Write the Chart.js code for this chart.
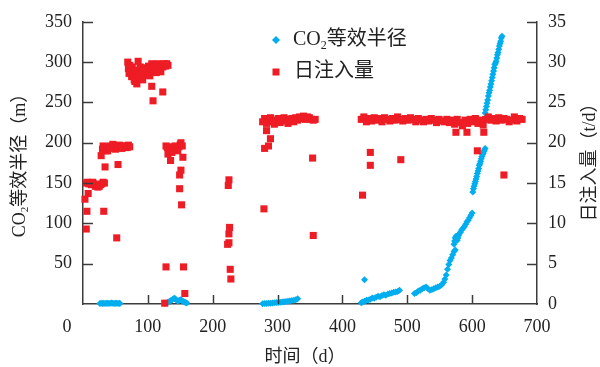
<!DOCTYPE html>
<html>
<head>
<meta charset="utf-8">
<script src="https://cdn.jsdelivr.net/npm/chart.js@4.4.1/dist/chart.umd.min.js"></script>
<style>
  html, body { margin: 0; padding: 0; background: #fff; }
  #wrap { width: 600px; height: 367px; }
</style>
</head>
<body>
<div id="wrap"><canvas id="c" width="600" height="367"></canvas></div>
<script>
// Daily injection (t/d) against time (d)
const injDays = [
  // early stage, ~15 t/d
  5, 7, 9, 11, 13, 15, 17, 19, 21, 23, 25, 27, 29, 31, 33, 8, 3, 6, 32, 5, 52,
  // ~19.5 t/d
  28, 30, 31, 33, 35, 37, 38, 40, 42, 44, 46, 48, 50, 52, 54, 56, 58, 60, 62, 64, 66, 68, 70, 72, 34, 54,
  // ~29 t/d
  69, 70, 71, 72, 74, 75, 76, 78, 79, 80, 82, 83, 84, 85, 86, 88, 89, 90, 92, 93, 95, 96, 98, 100,
  101, 103, 104, 106, 107, 108, 110, 112, 113, 115, 116, 118, 120, 121, 123, 125, 127, 129, 131,
  106, 123, 108,
  // ~19.5 t/d
  128, 130, 132, 134, 136, 138, 140, 142, 144, 146, 148, 150, 151, 153, 154, 135, 131, 137,
  151, 149, 149, 152, 128, 155, 157, 126,
  // short interruption
  225, 224, 226, 225, 225, 223, 227, 228,
  // ~23 t/d
  277, 280, 283, 286, 289, 292, 295, 298, 301, 304, 307, 310, 313, 316, 319, 322, 325, 328, 331,
  334, 337, 340, 343, 346, 349, 352, 355, 358,
  283, 289, 280, 286, 279, 354, 355,
  // ~23 t/d, long run
  429, 433, 437, 441, 445, 449, 453, 457, 461, 465, 469, 473, 477, 481, 485, 489, 493, 497, 501,
  505, 509, 513, 517, 521, 525, 529, 533, 537, 541, 545, 549, 553, 557, 561, 565, 569, 573, 577,
  581, 585, 589, 593, 597, 601, 605, 609, 613, 617, 621, 625, 629, 633, 637, 641, 645, 649, 653,
  657, 661, 665, 669, 673, 677,
  431, 443, 443, 490, 575, 592, 618, 608, 649
];
const injRate = [
  15.0, 15.1, 14.9, 15.0, 14.8, 15.1, 14.9, 14.6, 14.7, 14.5, 14.6, 14.8, 14.9, 15.1, 15.0, 13.7, 13.0, 11.5, 11.5, 9.3, 8.2,
  18.4, 19.2, 19.6, 19.4, 19.0, 19.5, 19.0, 19.3, 19.6, 19.4, 19.8, 19.5, 19.2, 19.6, 19.4, 19.7, 19.5, 19.3, 19.6, 19.5, 19.6, 19.4, 19.7, 19.5, 17.0, 17.3,
  30.0, 29.2, 28.6, 29.6, 28.9, 28.2, 29.4, 28.8, 27.8, 27.6, 28.4, 27.3, 29.0, 30.1, 28.6, 29.4, 28.0, 29.0, 27.8, 28.8, 29.3, 28.4, 29.0, 28.6,
  29.5, 28.3, 29.2, 29.8, 28.9, 29.6, 29.0, 29.6, 28.7, 29.4, 29.8, 29.2, 28.8, 29.6, 29.4, 29.8, 29.5, 29.8, 29.6,
  27.0, 26.3, 25.2,
  19.6, 19.4, 19.2, 19.5, 19.0, 19.3, 19.4, 19.6, 19.2, 19.0, 19.5, 19.8, 20.0, 19.6, 18.2, 17.8, 18.6, 18.8,
  16.6, 16.0, 14.3, 12.3, 4.6, 4.6, 1.3, 0.1,
  15.4, 14.7, 9.5, 8.7, 7.6, 7.4, 4.3, 3.1,
  22.6, 23.0, 22.4, 22.9, 23.1, 22.6, 22.3, 22.8, 23.0, 22.5, 22.8, 23.1, 22.7, 22.4, 22.9, 23.0, 22.6, 23.1, 22.8,
  23.2, 23.0, 23.3, 22.9, 23.2, 23.1, 22.9, 22.8, 22.9,
  21.5, 20.5, 19.3, 19.6, 11.8, 18.1, 8.5,
  22.9, 23.2, 22.6, 23.0, 22.7, 23.1, 22.8, 23.0, 22.6, 23.1, 22.9, 22.7, 23.0, 22.8, 23.2, 22.9, 22.7, 23.0, 22.8,
  23.1, 22.9, 22.6, 23.0, 22.8, 22.6, 22.9, 22.7, 23.0, 22.8, 22.5, 22.9, 22.7, 22.6, 22.9, 22.5, 22.8, 22.3, 22.9,
  22.5, 22.1, 22.8, 22.4, 22.9, 22.6, 23.0, 22.4, 22.8, 22.2, 22.9, 23.2, 22.8, 23.0, 22.7, 23.1, 22.8, 23.0, 22.9,
  22.6, 22.8, 23.2, 22.7, 23.0, 22.9,
  13.5, 18.8, 17.2, 17.9, 21.3, 21.3, 21.3, 19.0, 16.0
];

// CO2 equivalent radius (m) against time (d)
const radDays = [
  26, 28, 30, 32, 34, 36, 38, 40, 42, 44, 46, 48, 50, 52, 54, 56, 57,
  126, 128, 130, 132, 134, 136, 138, 140, 141, 142, 144, 146, 148, 150, 152, 154, 156, 158, 160,
  277, 280, 283, 286, 289, 292, 295, 298, 301, 304, 307, 310, 313, 316, 319, 322, 325, 328, 331,
  429, 431, 434, 437, 440, 443, 446, 449, 452, 455, 458, 461, 464, 467, 470, 473, 476, 479, 482, 485, 488,
  434,
  511, 514, 517, 520, 523, 526, 529, 532, 535, 538, 541, 544, 547, 550, 553, 556, 558, 560, 562, 564, 566, 568, 570, 572, 574,
  572, 573, 574, 575, 576, 577, 578, 579, 580, 582, 584, 586, 588, 590, 592, 594, 596, 598, 600,
  601, 602, 603, 604, 605, 606, 607, 608, 609, 610, 611, 612, 613, 614, 615, 616, 617, 618, 619, 620,
  620, 621, 622, 623, 624, 625, 626, 627, 628, 629, 630, 631, 632, 633, 634, 635, 636, 637, 638, 639,
  640, 641, 642, 643, 644, 645, 646
];
const radius = [
  0.5, 0.8, 0.6, 0.9, 0.7, 1.0, 0.8, 0.6, 0.9, 1.1, 0.8, 0.7, 1.0, 0.9, 0.6, 0.8, 0.5,
  0.5, 1.2, 2.0, 2.6, 3.5, 4.5, 5.6, 6.5, 7.0, 6.4, 5.0, 3.8, 4.2, 5.2, 4.6, 3.5, 2.6, 1.8, 1.2,
  0.3, 0.5, 0.6, 0.9, 1.0, 1.3, 1.5, 1.8, 2.0, 2.3, 2.6, 2.8, 3.1, 3.4, 3.8, 4.2, 4.6, 5.4, 6.5,
  1.5, 2.5, 3.5, 4.5, 5.0, 6.0, 7.5, 7.0, 8.5, 9.5, 9.0, 10.5, 11.5, 11.0, 12.5, 13.0, 13.5, 14.5, 15.0, 15.5, 17.0,
  30,
  13, 14, 16, 17, 19, 20, 21, 19, 17, 18, 19, 20, 21, 22, 24, 27, 31, 36, 43, 49, 54, 57, 61, 65, 67,
  74, 78, 82, 84, 80, 79, 82, 85, 87, 89, 92, 94, 96, 99, 102, 104, 107, 110, 113,
  139, 143, 146, 149, 152, 155, 158, 162, 165, 168, 172, 174, 177, 180, 183, 185, 187, 189, 191, 193,
  237, 241, 245, 249, 253, 258, 262, 265, 269, 273, 277, 281, 285, 289, 293, 297, 299, 301, 305, 309,
  312, 316, 320, 323, 326, 330, 332
];

// Axis ticks
const timeTicks = [0, 100, 200, 300, 400, 500, 600, 700];
const radiusTicks = [0, 50, 100, 150, 200, 250, 300, 350];
const rateTicks = [0, 5, 10, 15, 20, 25, 30, 35];

const BLUE = '#00AEEF';
const RED = '#EE1C25';
const AXIS = '#3c3c3c';
const TEXT = '#222';
const FAMILY = "'Liberation Serif', 'Noto Sans CJK SC', serif";

function toPoints(xs, ys) {
  return xs.map((v, i) => ({ x: v, y: ys[i] }));
}

// Draw a run of text pieces, some of them as subscripts
function richWidth(ctx, parts, size) {
  let w = 0;
  for (const p of parts) {
    ctx.font = (p.sub ? Math.round(size * 0.62) : size) + 'px ' + FAMILY;
    w += ctx.measureText(p.t).width;
  }
  return w;
}
function drawRich(ctx, parts, x, y, size) {
  let cx = x;
  for (const p of parts) {
    const s = p.sub ? Math.round(size * 0.62) : size;
    ctx.font = s + 'px ' + FAMILY;
    ctx.fillText(p.t, cx, p.sub ? y + size * 0.28 : y);
    cx += ctx.measureText(p.t).width;
  }
}

const decor = {
  id: 'decor',
  afterDatasetsDraw(chart) {
    const { ctx, chartArea: a, scales } = chart;
    const x = scales.x, y = scales.y, y1 = scales.y1;
    ctx.save();
    ctx.strokeStyle = AXIS;
    ctx.lineWidth = 1.5;
    ctx.beginPath();
    timeTicks.forEach(v => {
      if (v > x.min && v < x.max) {
        const px = Math.round(x.getPixelForValue(v)) + 0.5;
        ctx.moveTo(px, a.bottom); ctx.lineTo(px, a.bottom - 9);
      }
    });
    radiusTicks.forEach(v => {
      if (v > y.min) {
        const py = Math.round(y.getPixelForValue(v)) + 0.5;
        ctx.moveTo(a.left, py); ctx.lineTo(a.left + 10, py);
      }
    });
    rateTicks.forEach(v => {
      if (v > y1.min) {
        const py = Math.round(y1.getPixelForValue(v)) + 0.5;
        ctx.moveTo(a.right, py); ctx.lineTo(a.right - 10, py);
      }
    });
    ctx.stroke();

    // shared origin label
    ctx.fillStyle = TEXT;
    ctx.font = '18px ' + FAMILY;
    ctx.textAlign = 'center';
    ctx.textBaseline = 'middle';
    ctx.fillText('0', a.left - 16, a.bottom + 23);

    // x axis title
    ctx.fillText('时间（d）', (a.left + a.right) / 2 - 5, 357);

    // left axis title, rotated
    const leftParts = [{ t: 'CO' }, { t: '2', sub: true }, { t: '等效半径（m）' }];
    ctx.save();
    ctx.translate(20, 161);
    ctx.rotate(-Math.PI / 2);
    ctx.textAlign = 'left';
    const lw = richWidth(ctx, leftParts, 18);
    drawRich(ctx, leftParts, -lw / 2, 0, 18);
    ctx.restore();

    // right axis title, rotated
    ctx.save();
    ctx.translate(590, 158);
    ctx.rotate(-Math.PI / 2);
    ctx.font = '18px ' + FAMILY;
    ctx.textAlign = 'center';
    ctx.fillText('日注入量（t/d）', 0, 0);
    ctx.restore();

    // legend
    const lx = 276;
    ctx.fillStyle = BLUE;
    ctx.beginPath();
    ctx.moveTo(lx, 36); ctx.lineTo(lx + 4, 40); ctx.lineTo(lx, 44); ctx.lineTo(lx - 4, 40);
    ctx.closePath(); ctx.fill();
    ctx.fillStyle = RED;
    ctx.fillRect(lx - 3.5, 68.5, 7, 7);
    ctx.fillStyle = TEXT;
    ctx.textAlign = 'left';
    drawRich(ctx, [{ t: 'CO' }, { t: '2', sub: true }, { t: '等效半径' }], 293, 40, 20);
    ctx.font = '20px ' + FAMILY;
    ctx.fillText('日注入量', 294, 72);
    ctx.restore();
  }
};

const tickFont = { family: FAMILY, size: 18 };

new Chart(document.getElementById('c'), {
  type: 'scatter',
  data: {
    datasets: [
      {
        label: 'CO₂等效半径',
        data: toPoints(radDays, radius),
        yAxisID: 'y',
        pointStyle: 'rectRot',
        pointRadius: 3.5,
        pointHoverRadius: 3.5,
        backgroundColor: BLUE,
        borderColor: BLUE,
        borderWidth: 0,
        clip: false,
        order: 1
      },
      {
        label: '日注入量',
        data: toPoints(injDays, injRate),
        yAxisID: 'y1',
        pointStyle: 'rect',
        pointRadius: 5,
        pointHoverRadius: 5,
        backgroundColor: RED,
        borderColor: RED,
        borderWidth: 0,
        clip: false,
        order: 0
      }
    ]
  },
  options: {
    responsive: false,
    animation: false,
    events: [],
    layout: { autoPadding: false, padding: { top: 17, left: 0, right: 0, bottom: 0 } },
    plugins: { legend: { display: false }, tooltip: { enabled: false } },
    scales: {
      x: {
        type: 'linear',
        min: 0, max: 700,
        afterBuildTicks(s) { s.ticks = timeTicks.map(v => ({ value: v })); },
        afterFit(s) { s.height = 63; },
        grid: { display: false, drawTicks: false },
        border: { display: true, color: AXIS, width: 1.5 },
        ticks: {
          font: tickFont, color: TEXT, padding: 12, maxRotation: 0,
          callback: v => (v === 0 ? '' : String(v))
        }
      },
      y: {
        type: 'linear', position: 'left',
        min: 0, max: 350,
        afterBuildTicks(s) { s.ticks = radiusTicks.map(v => ({ value: v })); },
        afterFit(s) { s.width = 83; },
        grid: { display: false, drawTicks: false },
        border: { display: true, color: AXIS, width: 1.5 },
        ticks: {
          font: tickFont, color: TEXT, padding: 11,
          callback: v => (v === 0 ? '' : String(v))
        }
      },
      y1: {
        type: 'linear', position: 'right',
        min: 0, max: 35,
        afterBuildTicks(s) { s.ticks = rateTicks.map(v => ({ value: v })); },
        afterFit(s) { s.width = 63; },
        grid: { display: false, drawTicks: false },
        border: { display: true, color: AXIS, width: 1.5 },
        ticks: { font: tickFont, color: TEXT, padding: 11 }
      }
    }
  },
  plugins: [decor]
});
</script>
</body>
</html>
